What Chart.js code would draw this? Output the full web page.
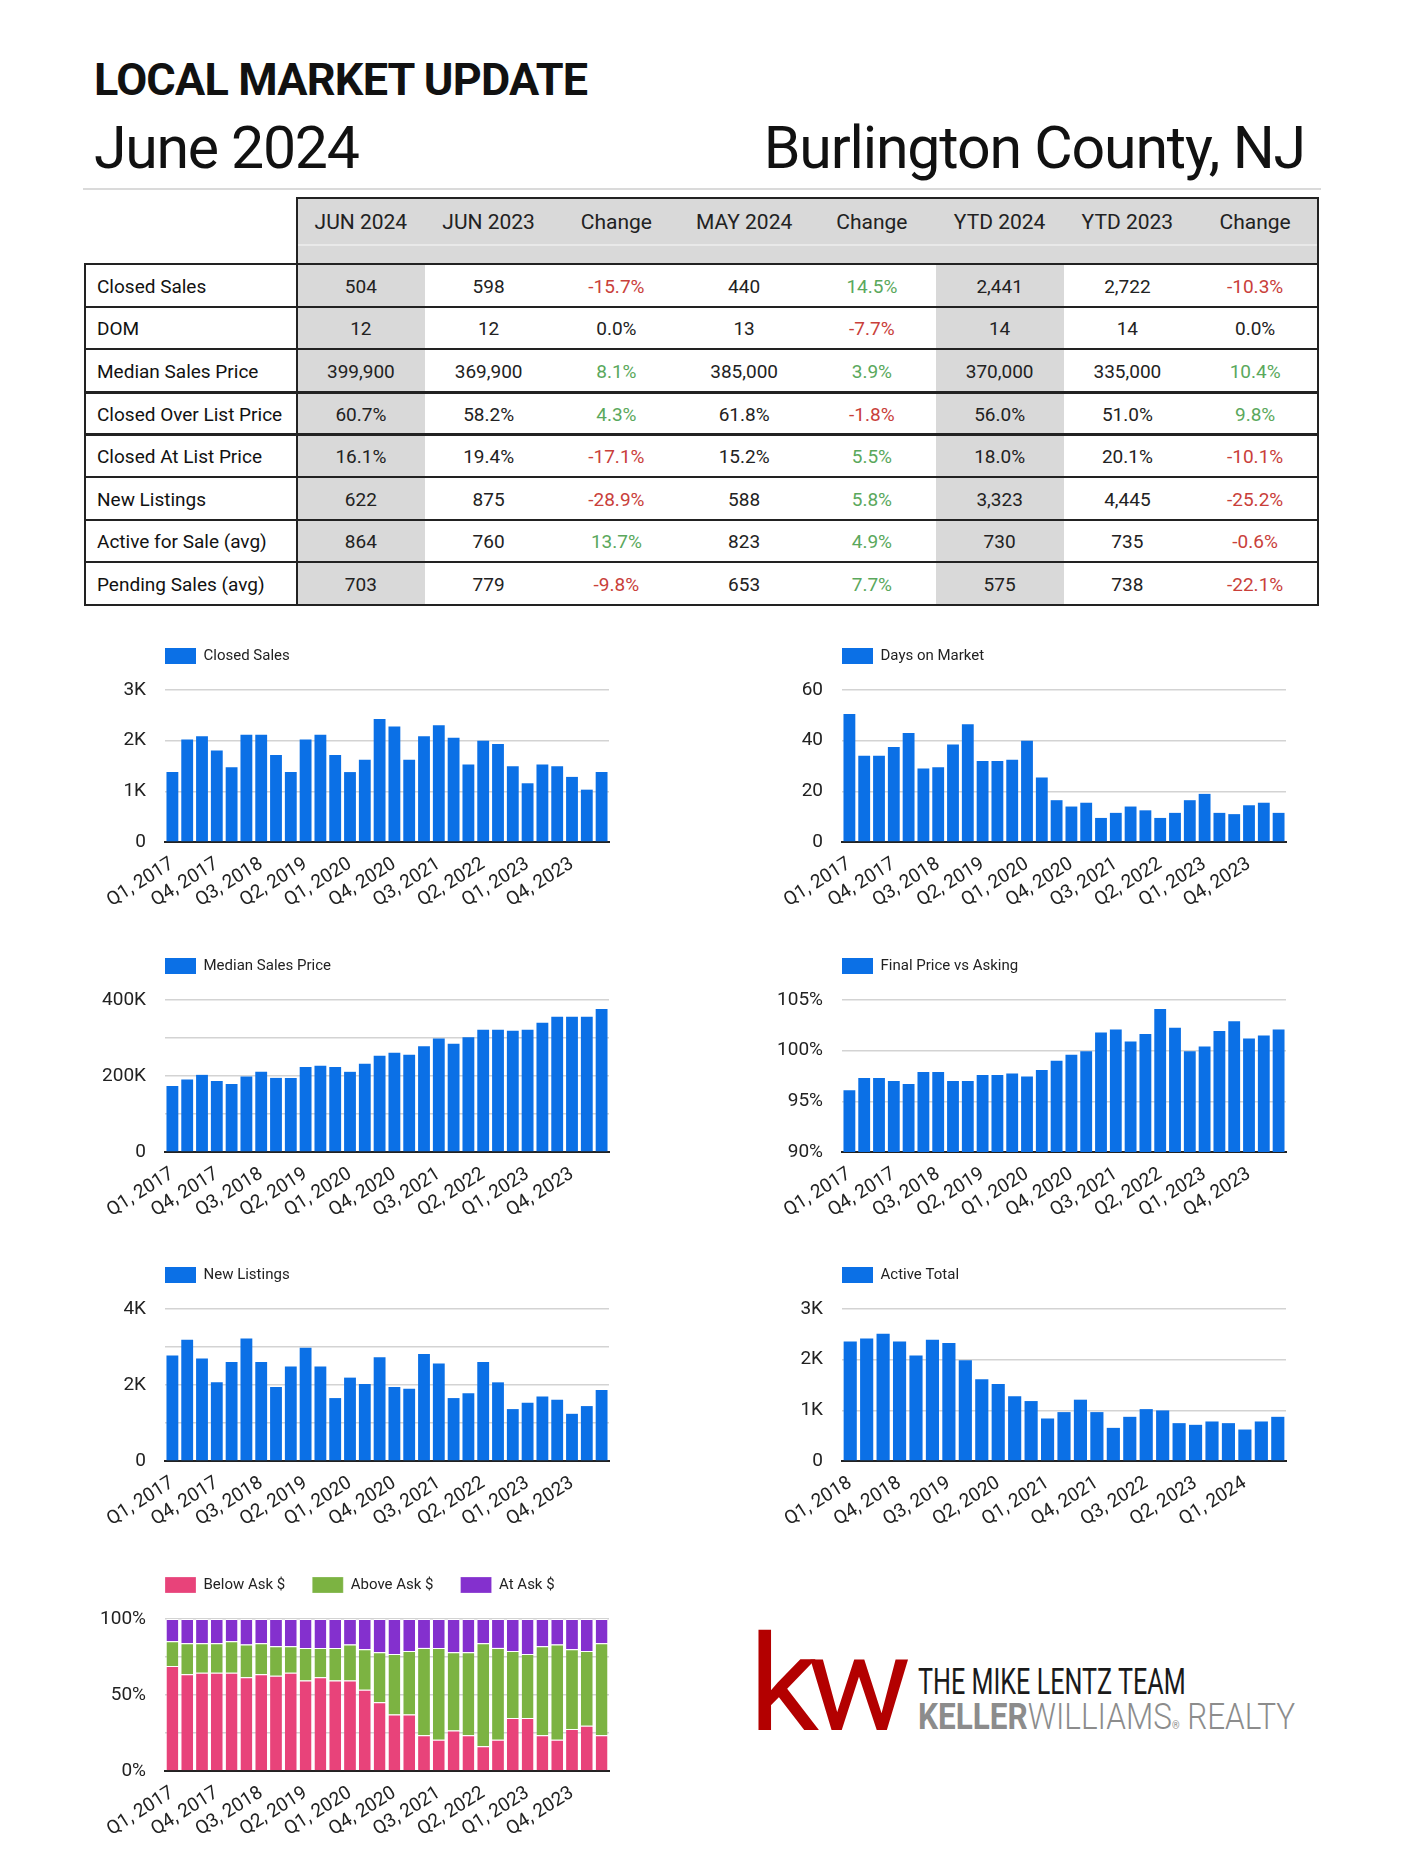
<!DOCTYPE html>
<html>
<head>
<meta charset="utf-8">
<title>Local Market Update - Burlington County, NJ</title>
<script src="https://cdn.jsdelivr.net/npm/chart.js@4.4.1/dist/chart.umd.min.js"></script>
<style>
  html, body { margin: 0; padding: 0; background: #fff; overflow: hidden; }
  body { width: 1407px; height: 1875px; position: relative; font-family: Roboto, "Noto Sans", sans-serif; color: #222; }
  .abs { position: absolute; white-space: nowrap; }
  #title { left: 94px; top: 57px; font-size: 45px; font-weight: 700; line-height: 1; color: #111; letter-spacing: -0.8px; }
  #month { left: 94px; top: 118px; font-size: 59px; line-height: 1; color: #111; letter-spacing: -1.3px; }
  #county { right: 102px; top: 118px; font-size: 59px; line-height: 1; color: #111; letter-spacing: -1.15px; }
  #rule { left: 83px; top: 188px; width: 1238px; height: 2px; background: #dadada; }
  #stats { left: 84px; top: 197px; width: 1235px; height: 410px; }
  #stats div { position: absolute; box-sizing: border-box; }
  .cell { display: flex; align-items: center; justify-content: center; font-size: 19px; }
  .hcell { display: flex; align-items: center; justify-content: center; font-size: 21px; }
  .chart { position: absolute; width: 560px; height: 291px; }
</style>
</head>
<body>
<div id="title" class="abs">LOCAL MARKET UPDATE</div>
<div id="month" class="abs">June 2024</div>
<div id="county" class="abs">Burlington County, NJ</div>
<div id="rule" class="abs"></div>
<div id="stats" class="abs"></div>

<div class="chart" style="left:60px;top:621px"><canvas id="closedChart"></canvas></div>
<div class="chart" style="left:737px;top:621px"><canvas id="domChart"></canvas></div>
<div class="chart" style="left:60px;top:931px"><canvas id="priceChart"></canvas></div>
<div class="chart" style="left:737px;top:931px"><canvas id="askChart"></canvas></div>
<div class="chart" style="left:60px;top:1240px"><canvas id="listingsChart"></canvas></div>
<div class="chart" style="left:737px;top:1240px"><canvas id="activeChart"></canvas></div>
<div class="chart" style="left:60px;top:1550px"><canvas id="splitChart"></canvas></div>

<div class="abs" style="left:749px;top:1618px;font-size:134px;line-height:1;font-weight:400;color:#b30000;letter-spacing:-11px;transform:scaleX(1.03);transform-origin:left top;">kw</div>
<div class="abs" style="left:918px;top:1663px;font-size:37px;line-height:1;color:#1a1a1a;transform:scaleX(0.68);transform-origin:left top;">THE MIKE LENTZ TEAM</div>
<div class="abs" style="left:918px;top:1699px;font-size:36px;line-height:1;color:#8c8c8c;transform:scaleX(0.875);transform-origin:left top;"><span style="font-weight:700">KELLER</span><span style="font-weight:300">WILLIAMS</span><span style="font-size:11px">®</span><span style="font-weight:300"> REALTY</span></div>

<script>
// ---- table data ----
const tableHeaders = ["JUN 2024", "JUN 2023", "Change", "MAY 2024", "Change", "YTD 2024", "YTD 2023", "Change"];
const rowLabels = ["Closed Sales", "DOM", "Median Sales Price", "Closed Over List Price", "Closed At List Price", "New Listings", "Active for Sale (avg)", "Pending Sales (avg)"];
const jun2024 = ["504", "12", "399,900", "60.7%", "16.1%", "622", "864", "703"];
const jun2023 = ["598", "12", "369,900", "58.2%", "19.4%", "875", "760", "779"];
const yoyChange = ["-15.7%", "0.0%", "8.1%", "4.3%", "-17.1%", "-28.9%", "13.7%", "-9.8%"];
const may2024 = ["440", "13", "385,000", "61.8%", "15.2%", "588", "823", "653"];
const momChange = ["14.5%", "-7.7%", "3.9%", "-1.8%", "5.5%", "5.8%", "4.9%", "7.7%"];
const ytd2024 = ["2,441", "14", "370,000", "56.0%", "18.0%", "3,323", "730", "575"];
const ytd2023 = ["2,722", "14", "335,000", "51.0%", "20.1%", "4,445", "735", "738"];
const ytdChange = ["-10.3%", "0.0%", "10.4%", "9.8%", "-10.1%", "-25.2%", "-0.6%", "-22.1%"];

// ---- chart data ----
const quarters = ["Q1, 2017", "Q2, 2017", "Q3, 2017", "Q4, 2017", "Q1, 2018", "Q2, 2018", "Q3, 2018", "Q4, 2018",
  "Q1, 2019", "Q2, 2019", "Q3, 2019", "Q4, 2019", "Q1, 2020", "Q2, 2020", "Q3, 2020", "Q4, 2020",
  "Q1, 2021", "Q2, 2021", "Q3, 2021", "Q4, 2021", "Q1, 2022", "Q2, 2022", "Q3, 2022", "Q4, 2022",
  "Q1, 2023", "Q2, 2023", "Q3, 2023", "Q4, 2023", "Q1, 2024", "Q2, 2024"];
const activeQuarters = ["Q1, 2018", "Q2, 2018", "Q3, 2018", "Q4, 2018", "Q1, 2019", "Q2, 2019", "Q3, 2019", "Q4, 2019",
  "Q1, 2020", "Q2, 2020", "Q3, 2020", "Q4, 2020", "Q1, 2021", "Q2, 2021", "Q3, 2021", "Q4, 2021",
  "Q1, 2022", "Q2, 2022", "Q3, 2022", "Q4, 2022", "Q1, 2023", "Q2, 2023", "Q3, 2023", "Q4, 2023",
  "Q1, 2024", "Q2, 2024", "Q3, 2024"];

const closedSales = [1380, 2025, 2085, 1808, 1477, 2119, 2119, 1715, 1380, 2025, 2119, 1715, 1380, 1622, 2430,
  2278, 1622, 2085, 2305, 2060, 1530, 2000, 1934, 1497, 1159, 1530, 1497, 1285, 1033, 1380];
const daysOnMarket = [50.5, 34, 34, 37.5, 43, 29, 29.5, 38.5, 46.5, 32, 32, 32.5, 40, 25.5, 16.5,
  14, 15.5, 9.5, 11.5, 14, 12.5, 9.5, 11.5, 16.5, 19, 11.5, 11, 14.5, 15.5, 11.5];
const medianPrice = [174000, 191000, 203000, 187000, 179000, 199000, 211000, 195000, 195000, 224000, 227000, 224000,
  211000, 232000, 253000, 261000, 256000, 278000, 299000, 285000, 302000, 322000, 322000, 319000, 322000, 340000,
  356000, 356000, 356000, 376000];
const finalVsAsking = [96.1, 97.3, 97.3, 97.0, 96.7, 97.9, 97.9, 97.0, 97.0, 97.6, 97.6, 97.75, 97.45, 98.1, 99.0,
  99.6, 99.95, 101.8, 102.1, 100.9, 101.65, 104.1, 102.25, 99.95, 100.4, 101.95, 102.9, 101.2, 101.5, 102.1];
const newListings = [2775, 3189, 2696, 2070, 2608, 3225, 2608, 1947, 2485, 2978, 2485, 1656, 2194, 2026, 2731,
  1947, 1903, 2819, 2564, 1656, 1780, 2608, 2070, 1366, 1533, 1700, 1612, 1242, 1445, 1868];
const activeTotal = [2360, 2419, 2512, 2360, 2082, 2393, 2327, 1989, 1613, 1520, 1276, 1183, 839, 965, 1210,
  965, 654, 872, 1024, 998, 747, 714, 780, 747, 621, 780, 872];
const belowAsk = [69.1, 63.6, 64.7, 64.7, 64.7, 61.6, 63.6, 62.7, 64.7, 59.6, 61.6, 59.6, 59.6, 53.4, 45.3,
  37.1, 37.1, 23.6, 20.5, 26.7, 23.6, 16.3, 20.5, 34.9, 34.9, 23.6, 20.5, 27.6, 29.8, 23.6];
const aboveAsk = [16.3, 20.5, 19.4, 19.4, 20.7, 21.6, 20.5, 19.4, 17.4, 21.4, 19.4, 21.4, 23.6, 26.7, 32.8,
  39.9, 41.9, 57.4, 60.5, 51.4, 54.5, 67.8, 60.5, 44.1, 42.1, 58.5, 62.7, 52.5, 49.2, 60.5];
const atAsk = [14.6, 15.9, 15.9, 15.9, 14.6, 16.8, 15.9, 17.9, 17.9, 19.0, 19.0, 19.0, 16.8, 19.9, 21.9,
  23.0, 21.0, 19.0, 19.0, 21.9, 21.9, 15.9, 19.0, 21.0, 23.0, 17.9, 16.8, 19.9, 21.0, 15.9];

// ---- build the summary table ----
const stats = document.getElementById("stats");
const labelW = 213, colW = 127.75, headH = 67, rowH = 42.6, fullW = 1235;
const columns = [jun2024, jun2023, yoyChange, may2024, momChange, ytd2024, ytd2023, ytdChange];
const changeCols = [2, 4, 7];

function box(left, top, width, height, style, text, cls) {
  const d = document.createElement("div");
  d.style.left = left + "px";
  d.style.top = top + "px";
  d.style.width = width + "px";
  d.style.height = height + "px";
  if (style) d.setAttribute("style", d.getAttribute("style") + ";" + style);
  if (cls) d.className = cls;
  if (text !== undefined) d.textContent = text;
  stats.appendChild(d);
  return d;
}

// header
box(labelW, 0, fullW - labelW, headH, "background:#d9d9d9");
box(labelW, 47, fullW - labelW, 2, "background:#e9e9e9");
tableHeaders.forEach((h, i) => box(labelW + i * colW, 1, colW, 48, "color:#222", h, "hcell"));
// grey columns
[0, 5].forEach(c => box(labelW + c * colW, headH, colW, rowH * rowLabels.length, "background:#d9d9d9"));
// rows
rowLabels.forEach((lab, r) => {
  const top = headH + r * rowH + 1;
  box(0, top, labelW, rowH, "justify-content:flex-start;padding-left:13px;color:#111", lab, "cell");
  columns.forEach((col, c) => {
    const v = col[r];
    let color = "#222";
    if (changeCols.includes(c)) {
      if (v.startsWith("-")) color = "#c9403a";
      else if (v !== "0.0%") color = "#5aa85c";
    }
    box(labelW + c * colW, top, colW, rowH, "color:" + color, v, "cell");
  });
});
// lines
box(labelW, 0, fullW - labelW, 2, "background:#222");
box(fullW - 2, 0, 2, headH + rowH * rowLabels.length, "background:#222");
box(labelW - 1, 0, 2, headH + rowH * rowLabels.length, "background:#222");
box(0, headH - 1, 2, rowH * rowLabels.length + 1, "background:#222");
for (let r = 0; r <= rowLabels.length; r++) {
  const thick = (r === 3 || r === 4) ? 3 : 2;
  box(0, headH + r * rowH - 1, fullW, thick, "background:#222");
}

// ---- charts ----
Chart.defaults.font.family = "Roboto, 'Noto Sans', sans-serif";
Chart.defaults.color = "#222";
Chart.defaults.animation = false;

const BLUE = "#0b70e6";

// extra room under the legend, and legend items start at the plot's left edge
const legendLayout = {
  id: "legendLayout",
  beforeInit(chart) {
    const lg = chart.legend;
    const fit = lg.fit;
    lg.fit = function () {
      fit.call(lg);
      this.height += 16;
    };
  },
  afterLayout(chart) {
    const lg = chart.legend;
    const w = lg.right - lg.left;
    lg.left = chart.chartArea.left - lg.options.labels.padding;
    lg.right = lg.left + w;
  }
};

function everyLabel(v, min, every) {
  const q = (v - min) / every;
  return Math.abs(q - Math.round(q)) < 1e-6;
}

function yAxis(min, max, step, every, fmt, stacked) {
  return {
    stacked: !!stacked,
    min: min,
    max: max,
    border: { display: false },
    grid: { color: "#d3d3d3", lineWidth: 1.5, drawTicks: false },
    ticks: {
      stepSize: step,
      padding: 19,
      font: { size: 19 },
      color: "#222",
      callback: v => everyLabel(v, min, every) ? fmt(v) : ""
    },
    afterFit: s => { s.width = 85; }
  };
}

function xAxis(stacked) {
  return {
    stacked: !!stacked,
    grid: { display: false },
    border: { display: true, color: "#222", width: 2 },
    ticks: {
      autoSkip: false,
      maxRotation: 32,
      minRotation: 32,
      padding: 3,
      font: { size: 19 },
      color: "#222",
      callback: function (v, i) { return i % 3 === 0 ? this.getLabelForValue(v) : ""; }
    },
    afterFit: s => { s.height = 70; }
  };
}

const baseOptions = {
  responsive: true,
  maintainAspectRatio: false,
  layout: { padding: { left: 20, right: 11, top: 0, bottom: 0 } },
  plugins: {
    legend: {
      position: "top",
      align: "start",
      labels: { boxWidth: 31, boxHeight: 16, padding: 27, color: "#222", font: { size: 15 } }
    },
    tooltip: { enabled: false }
  }
};

function barChart(id, labels, name, data, y) {
  return new Chart(document.getElementById(id), {
    type: "bar",
    data: {
      labels: labels,
      datasets: [{ label: name, data: data, backgroundColor: BLUE, barPercentage: 0.8, categoryPercentage: 1 }]
    },
    options: Object.assign({}, baseOptions, { scales: { x: xAxis(false), y: y } }),
    plugins: [legendLayout]
  });
}

const kFmt = v => v === 0 ? "0" : (v / 1000) + "K";

barChart("closedChart", quarters, "Closed Sales", closedSales, yAxis(0, 3000, 500, 1000, kFmt));
barChart("domChart", quarters, "Days on Market", daysOnMarket, yAxis(0, 60, 10, 20, v => String(v)));
barChart("priceChart", quarters, "Median Sales Price", medianPrice, yAxis(0, 400000, 100000, 200000, kFmt));
barChart("askChart", quarters, "Final Price vs Asking", finalVsAsking, yAxis(90, 105, 2.5, 5, v => v + "%"));
barChart("listingsChart", quarters, "New Listings", newListings, yAxis(0, 4000, 1000, 2000, kFmt));
barChart("activeChart", activeQuarters, "Active Total", activeTotal, yAxis(0, 3000, 500, 1000, kFmt));

new Chart(document.getElementById("splitChart"), {
  type: "bar",
  data: {
    labels: quarters,
    datasets: [
      { label: "Below Ask $", data: belowAsk, backgroundColor: "#e8437a" },
      { label: "Above Ask $", data: aboveAsk, backgroundColor: "#7cb342" },
      { label: "At Ask $", data: atAsk, backgroundColor: "#8430ce" }
    ].map(d => Object.assign(d, {
      barPercentage: 0.8, categoryPercentage: 1,
      borderColor: "#ffffff", borderWidth: { top: 1, left: 0, right: 0, bottom: 0 }, borderSkipped: false
    }))
  },
  options: Object.assign({}, baseOptions, {
    scales: { x: xAxis(true), y: yAxis(0, 100, 25, 50, v => v + "%", true) }
  }),
  plugins: [legendLayout]
});
</script>
</body>
</html>
